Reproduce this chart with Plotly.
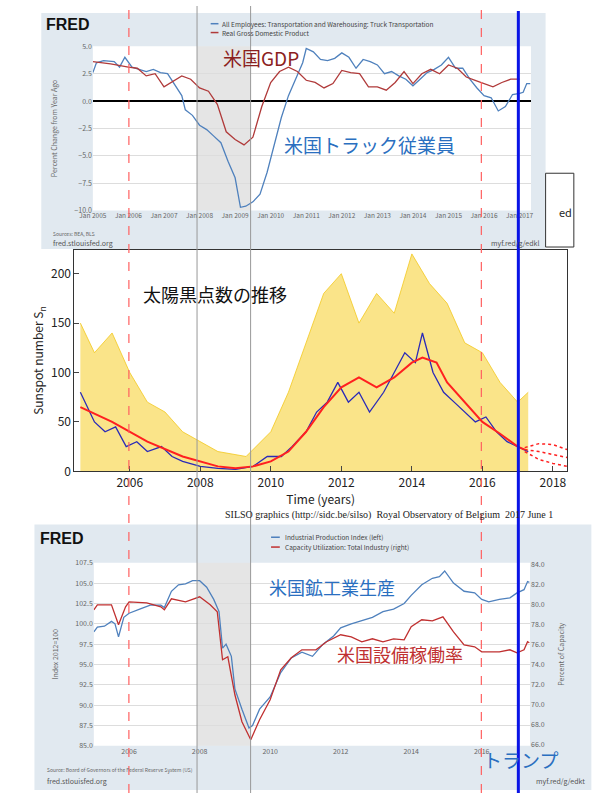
import plotly.graph_objects as go

W, H = 607, 800
def fx(px): return px / W
def fy(py): return 1 - py / H

truck_t = [2005.0,2005.1,2005.3,2005.6,2005.75,2005.9,2006.1,2006.3,2006.5,2006.7,2006.9,2007.1,2007.3,2007.5,2007.6,2007.8,2008.0,2008.2,2008.4,2008.6,2008.8,2009.0,2009.15,2009.3,2009.5,2009.7,2009.9,2010.1,2010.3,2010.5,2010.7,2010.9,2011.0,2011.2,2011.4,2011.6,2011.8,2012.0,2012.2,2012.4,2012.6,2012.8,2013.0,2013.2,2013.4,2013.6,2013.8,2014.0,2014.2,2014.4,2014.6,2014.8,2015.0,2015.2,2015.4,2015.6,2015.8,2016.0,2016.2,2016.4,2016.6,2016.8,2017.0,2017.1,2017.2,2017.3]
truck_v = [2.6,3.5,3.7,3.6,3.1,4.0,3.1,2.9,2.7,2.9,2.6,2.5,1.5,0.5,-0.8,-1.3,-2.2,-2.6,-3.2,-3.8,-5.5,-7.0,-9.7,-9.6,-9.2,-8.5,-6.5,-4.0,-1.5,0.5,2.0,3.5,4.8,4.5,3.8,3.7,3.9,4.4,4.0,3.0,3.8,3.6,3.3,2.5,2.7,2.3,2.0,1.4,2.0,2.6,2.9,3.3,4.0,3.0,3.0,2.0,1.2,0.5,0.3,-0.9,-0.5,0.6,0.7,0.8,1.6,1.6]
gdp_t = [2005.0,2005.5,2006.0,2006.25,2006.5,2006.75,2007.0,2007.25,2007.5,2007.75,2008.0,2008.25,2008.5,2008.75,2009.0,2009.25,2009.5,2009.75,2010.0,2010.25,2010.5,2010.75,2011.0,2011.25,2011.5,2011.75,2012.0,2012.25,2012.5,2012.75,2013.0,2013.25,2013.5,2013.75,2014.0,2014.25,2014.5,2014.75,2015.0,2015.25,2015.5,2015.75,2016.0,2016.25,2016.5,2016.75,2017.0]
gdp_v = [3.6,3.4,3.1,3.0,2.3,2.5,1.3,1.8,2.3,2.0,1.2,0.9,-0.3,-2.8,-3.5,-4.0,-3.3,-0.5,1.7,2.7,3.1,2.7,1.9,1.7,1.2,1.6,2.8,2.6,2.5,1.3,1.3,1.0,1.7,2.7,1.6,2.5,2.9,2.5,3.3,3.0,2.2,1.9,1.6,1.3,1.7,2.0,2.0]

ss_t = [2004.6,2005.0,2005.3,2005.6,2005.9,2006.2,2006.5,2006.9,2007.2,2007.5,2008.0,2008.5,2009.0,2009.5,2009.9,2010.3,2010.6,2011.0,2011.3,2011.6,2011.9,2012.2,2012.5,2012.8,2013.2,2013.5,2013.8,2014.1,2014.3,2014.6,2014.9,2015.2,2015.5,2015.8,2016.1,2016.4,2016.7,2017.0,2017.3]
ss_v = [80,50,40,45,25,30,20,25,15,10,5,3,2,5,15,15,25,40,60,70,90,70,80,60,80,100,120,110,140,100,80,70,60,50,55,40,30,25,20]
sm_t = [2004.6,2005.5,2006.5,2007.5,2008.5,2009.0,2009.5,2010.0,2010.5,2011.0,2011.5,2012.0,2012.5,2013.0,2013.5,2014.0,2014.3,2014.7,2015.0,2015.5,2016.0,2016.5,2017.0,2017.2]
sm_v = [65,50,30,15,5,3,5,10,20,40,65,85,95,85,95,110,115,110,90,70,50,38,25,22]
fc_t = [2017.2,2017.6,2018.0,2018.4]
fc_hi = [24,28,27,22]
fc_mid = [22,20,17,14]
fc_lo = [20,12,8,5]
daily_t = [2004.6,2005.0,2005.5,2006.0,2006.5,2007.0,2007.5,2008.5,2009.3,2010.0,2010.5,2011.0,2011.5,2012.0,2012.5,2013.0,2013.5,2014.0,2014.5,2015.0,2015.5,2016.0,2016.5,2017.0,2017.3]
daily_hi = [150,120,140,100,70,60,40,20,15,40,80,130,180,200,150,180,160,220,190,170,130,120,90,70,80]

ip_t = [2005.0,2005.1,2005.3,2005.5,2005.6,2005.7,2005.85,2006.0,2006.3,2006.6,2006.9,2007.0,2007.2,2007.4,2007.6,2007.8,2008.0,2008.2,2008.4,2008.55,2008.65,2008.75,2008.9,2009.0,2009.2,2009.4,2009.5,2009.7,2010.0,2010.3,2010.6,2010.9,2011.2,2011.5,2011.8,2012.0,2012.3,2012.6,2012.9,2013.2,2013.5,2013.8,2014.0,2014.3,2014.6,2014.8,2014.95,2015.2,2015.5,2015.8,2016.0,2016.2,2016.5,2016.8,2017.0,2017.2,2017.3,2017.35]
ip_v = [99.0,99.6,99.7,100.3,100.0,98.4,100.8,101.3,101.8,102.3,102.3,102.0,104.0,104.8,104.9,105.3,105.3,104.5,103.0,101.5,97.0,97.5,96.0,92.0,89.5,87.2,87.5,89.5,91.0,94.0,95.8,96.5,96.0,97.5,98.5,99.5,100.0,100.4,100.8,101.5,101.8,102.5,103.5,104.8,105.6,105.8,106.5,105.0,104.0,103.8,103.0,102.7,103.0,103.2,103.8,104.2,105.2,105.1]
cu_t = [2005.0,2005.1,2005.5,2005.7,2005.9,2006.0,2006.5,2006.9,2007.0,2007.2,2007.6,2008.0,2008.3,2008.5,2008.65,2008.8,2009.0,2009.2,2009.45,2009.7,2010.0,2010.3,2010.6,2010.9,2011.3,2011.6,2012.0,2012.3,2012.6,2012.9,2013.2,2013.5,2013.8,2014.0,2014.3,2014.6,2014.9,2015.2,2015.5,2015.8,2016.0,2016.2,2016.5,2016.8,2017.0,2017.2,2017.3,2017.35]
cu_v = [79.5,80.0,80.0,78.0,79.8,80.3,80.2,79.8,79.5,80.6,80.3,80.8,80.0,79.3,74.5,74.8,71.0,68.3,66.5,68.5,70.5,73.5,74.7,75.5,75.5,76.3,77.0,76.8,76.3,76.6,76.3,76.6,76.5,77.8,78.5,78.4,78.8,77.3,76.0,75.8,75.3,75.3,75.3,75.5,75.2,75.5,76.3,76.2]

GREY = "#666"
fig = go.Figure()
lf = dict(size=7, color=GREY)

fig.add_trace(go.Scatter(x=truck_t, y=truck_v, mode="lines", line=dict(color="#4f81bd", width=1.3), xaxis="x", yaxis="y"))
fig.add_trace(go.Scatter(x=gdp_t, y=gdp_v, mode="lines", line=dict(color="#b03a3a", width=1.3), xaxis="x", yaxis="y"))

fig.add_trace(go.Scatter(x=daily_t, y=[0]*len(daily_t), mode="lines", line=dict(width=0), xaxis="x2", yaxis="y2"))
fig.add_trace(go.Scatter(x=daily_t, y=daily_hi, mode="lines", fill="tonexty", fillcolor="rgba(245,205,40,0.55)", line=dict(color="#f2c81e", width=0.8), xaxis="x2", yaxis="y2"))
fig.add_trace(go.Scatter(x=ss_t, y=ss_v, mode="lines", line=dict(color="#2a2ab8", width=1.3), xaxis="x2", yaxis="y2"))
fig.add_trace(go.Scatter(x=sm_t, y=sm_v, mode="lines", line=dict(color="#ff2020", width=2), xaxis="x2", yaxis="y2"))
for arr in (fc_hi, fc_mid, fc_lo):
    fig.add_trace(go.Scatter(x=fc_t, y=arr, mode="lines", line=dict(color="#ff2020", width=1.5, dash="dot"), xaxis="x2", yaxis="y2"))

fig.add_trace(go.Scatter(x=ip_t, y=ip_v, mode="lines", line=dict(color="#4f81bd", width=1.3), xaxis="x3", yaxis="y3"))
fig.add_trace(go.Scatter(x=cu_t, y=cu_v, mode="lines", line=dict(color="#c03030", width=1.3), xaxis="x3", yaxis="y4"))

grid = "#dddddd"
fig.update_layout(
    width=W, height=H, margin=dict(l=0, r=0, t=0, b=0), showlegend=False,
    paper_bgcolor="white", plot_bgcolor="white",
    font=dict(family="Noto Sans CJK JP, Noto Sans"),
    xaxis=dict(domain=[fx(81), fx(531)], range=[2005, 2017.32], anchor="y",
               tickvals=list(range(2005, 2018)), ticktext=[f"Jan {y}" for y in range(2005, 2018)],
               tickangle=0, tickfont=dict(size=6.5, color=GREY), showgrid=False, zeroline=False),
    yaxis=dict(domain=[fy(208), fy(41)], range=[-10, 5], anchor="x", dtick=2.5, tickformat=".1f",
               tickfont=lf, gridcolor=grid, zeroline=True, zerolinecolor="black", zerolinewidth=1.5,
               title=dict(text="Percent Change from Year Ago", font=dict(size=7, color=GREY))),
    xaxis2=dict(domain=[fx(62), fx(568)], range=[2004.43, 2018.4], anchor="y2",
                dtick=2, tick0=2006, ticks="inside", showgrid=False, zeroline=False,
                tickfont=dict(size=12, color="#222"), showline=True, mirror=True, linecolor="#333",
                title=dict(text="Time (years)", font=dict(size=12, color="#222"), standoff=2)),
    yaxis2=dict(domain=[fy(473), fy(248)], range=[0, 224], anchor="x2", dtick=50, ticks="inside",
                showgrid=False, zeroline=False, tickfont=dict(size=12, color="#222"),
                showline=True, mirror=True, linecolor="#333",
                title=dict(text="Sunspot number S<sub>n</sub>", font=dict(size=12, color="#222"), standoff=4)),
    xaxis3=dict(domain=[fx(82), fx(530)], range=[2005, 2017.37], anchor="y3",
                tickvals=list(range(2006, 2018, 2)), tickfont=lf, showgrid=False, zeroline=False),
    yaxis3=dict(domain=[fy(752), fy(566)], range=[85, 107.5], anchor="x3", dtick=2.5, tickformat=".1f",
                tickfont=lf, gridcolor=grid, zeroline=False,
                title=dict(text="Index 2012=100", font=dict(size=7, color=GREY))),
    yaxis4=dict(overlaying="y3", side="right", anchor="x3", range=[65.9, 84.2], dtick=2, tickformat=".1f",
                tickfont=lf, showgrid=False, zeroline=False,
                title=dict(text="Percent of Capacity", font=dict(size=7, color=GREY))),
)

shapes = [
    dict(type="rect", xref="paper", yref="paper", x0=fx(28), x1=fx(546), y0=fy(247), y1=fy(7),
         fillcolor="#e1e9f0", line=dict(width=0), layer="below"),
    dict(type="rect", xref="paper", yref="paper", x0=fx(81), x1=fx(531), y0=fy(208), y1=fy(41),
         fillcolor="white", line=dict(width=0), layer="below"),
    dict(type="rect", xref="paper", yref="paper", x0=fx(21), x1=fx(593), y0=fy(797), y1=fy(527),
         fillcolor="#e1e9f0", line=dict(width=0), layer="below"),
    dict(type="rect", xref="paper", yref="paper", x0=fx(82), x1=fx(530), y0=fy(752), y1=fy(566),
         fillcolor="white", line=dict(width=0), layer="below"),
    dict(type="rect", xref="paper", yref="paper", x0=fx(546), x1=fx(575), y0=fy(245), y1=fy(170),
         fillcolor="white", line=dict(color="#333", width=1), layer="below"),
]
for (y0, y1) in [(208, 41), (752, 566)]:
    shapes.append(dict(type="rect", xref="paper", yref="paper", x0=fx(188), x1=fx(243), y0=fy(y0), y1=fy(y1),
                       fillcolor="rgba(0,0,0,0.1)", line=dict(width=0), layer="below"))
for px in (188, 243):
    shapes.append(dict(type="line", xref="paper", yref="paper", x0=fx(px), x1=fx(px), y0=0, y1=1,
                       line=dict(color="#999", width=1)))
for px in (118, 480):
    shapes.append(dict(type="line", xref="paper", yref="paper", x0=fx(px), x1=fx(px), y0=0, y1=1,
                       line=dict(color="#ff6060", width=1.2, dash="dash")))
shapes.append(dict(type="line", xref="paper", yref="paper", x0=fx(518), x1=fx(518), y0=fy(800), y1=fy(5),
                   line=dict(color="#0a14e6", width=3)))
fig.update_layout(shapes=shapes)

def ann(px, py, text, size, color, anchor="left", family=None, bold=False):
    f = dict(size=size, color=color)
    if family: f["family"] = family
    t = f"<b>{text}</b>" if bold else text
    fig.add_annotation(xref="paper", yref="paper", x=fx(px), y=fy(py), text=t, showarrow=False,
                       xanchor=anchor, yanchor="middle", font=f)

ann(31, 19, "FRED", 16, "#111", bold=True, family="Liberation Sans")
ann(25, 541, "FRED", 16, "#111", bold=True, family="Liberation Sans")
fig.add_shape(type="line", xref="paper", yref="paper", x0=fx(202), x1=fx(210), y0=fy(18), y1=fy(18), line=dict(color="#4f81bd", width=1.5))
fig.add_shape(type="line", xref="paper", yref="paper", x0=fx(202), x1=fx(210), y0=fy(27), y1=fy(27), line=dict(color="#b03a3a", width=1.5))
ann(212, 18, "All Employees: Transportation and Warehousing: Truck Transportation", 6.5, "#444")
ann(212, 27, "Real Gross Domestic Product", 6.5, "#444")
fig.add_shape(type="line", xref="paper", yref="paper", x0=fx(264), x1=fx(273), y0=fy(540), y1=fy(540), line=dict(color="#4f81bd", width=1.5))
fig.add_shape(type="line", xref="paper", yref="paper", x0=fx(264), x1=fx(273), y0=fy(550), y1=fy(550), line=dict(color="#c03030", width=1.5))
ann(276, 540, "Industrial Production Index (left)", 6.5, "#444")
ann(276, 550, "Capacity Utilization: Total Industry (right)", 6.5, "#444")
ann(38, 231, "Sources: BEA, BLS", 5, "#666")
ann(38, 241, "fred.stlouisfed.org", 7, "#555")
ann(541, 241, "myf.red/g/edkl", 7, "#555", anchor="right")
ann(32, 777, "Source: Board of Governors of the Federal Reserve System (US)", 5, "#666")
ann(32, 788, "fred.stlouisfed.org", 7, "#555")
ann(588, 788, "myf.red/g/edkt", 7, "#555", anchor="right")
ann(575, 209, "ed", 11, "#222", anchor="right")
ann(385, 517, "SILSO graphics (http://sidc.be/silso)  Royal Observatory of Belgium  2017 June 1", 10, "#222", anchor="center", family="Liberation Serif")
ann(213, 52, "米国GDP", 19, "#8b2020")
ann(275, 141, "米国トラック従業員", 19, "#2a6fc0")
ann(130, 293, "太陽黒点数の推移", 18, "#111")
ann(260, 591, "米国鉱工業生産", 18, "#2a6fc0")
ann(330, 659, "米国設備稼働率", 18, "#c03030")
ann(480, 766, "トランプ", 19, "#2a6fc0")

fig.write_html("out.html", config={"displayModeBar": False})
with open("out.html", encoding="utf-8") as f:
    html = f.read()
html = html.replace("<head>", "<head><style>html,body{margin:0;padding:0;overflow:hidden}</style>", 1)
with open("out.html", "w", encoding="utf-8") as f:
    f.write(html)
